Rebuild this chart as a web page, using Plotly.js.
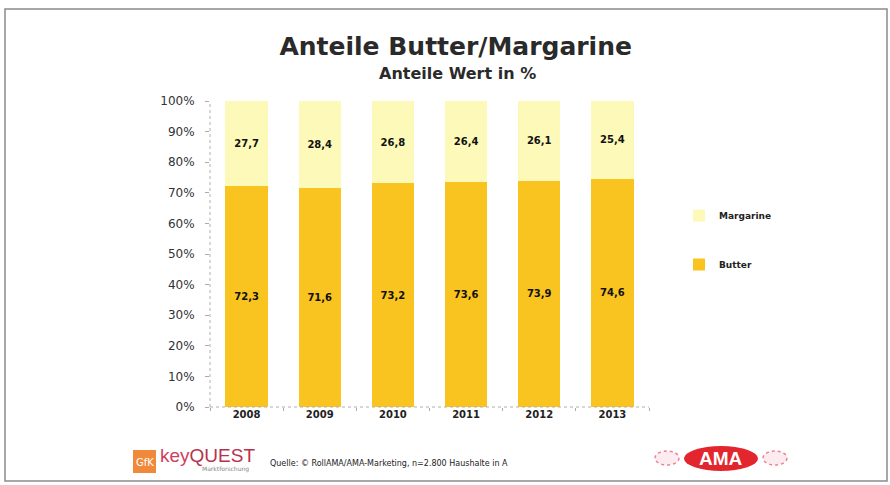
<!DOCTYPE html>
<html>
<head>
<meta charset="utf-8">
<script src="https://cdn.plot.ly/plotly-3.0.1.min.js"></script>
<style>
html,body{margin:0;padding:0;background:#fff;}
#chart{width:890px;height:485px;}
</style>
</head>
<body>
<div id="chart"></div>
<script>
const years = ['2008','2009','2010','2011','2012','2013'];
const butter = [72.3, 71.6, 73.2, 73.6, 73.9, 74.6];
const margarine = [27.7, 28.4, 26.8, 26.4, 26.1, 25.4];
const yTickVals = [0,10,20,30,40,50,60,70,80,90,100];
const yTickText = ['0%','10%','20%','30%','40%','50%','60%','70%','80%','90%','100%'];

const fmt = v => v.toFixed(1).replace('.', ',');
const labelFont = {family:'DejaVu Sans, Verdana, sans-serif', size:10, color:'#111', weight:'bold'};

const traces = [
  {type:'bar', name:'Butter', x:years, y:butter, legendgroup:'b', legendrank:2,
   marker:{color:'#F9C41F'}, text:butter.map(fmt), textposition:'inside',
   insidetextanchor:'middle', textangle:0, textfont:labelFont, hoverinfo:'skip'},
  {type:'bar', name:'Margarine', x:years, y:margarine, legendgroup:'m', legendrank:1,
   marker:{color:'#FDF9B8'}, text:margarine.map(fmt), textposition:'inside',
   insidetextanchor:'middle', textangle:0, textfont:labelFont, hoverinfo:'skip'}
];

const L = 210, R = 241, T = 101, B = 78;
const W = 890 - L - R, H = 485 - T - B;
const px = x => (x - L) / W;
const py = y => (485 - B - y) / H;

const layout = {
  width:890, height:485,
  margin:{l:L, r:R, t:T, b:B},
  paper_bgcolor:'#fff', plot_bgcolor:'#fff',
  barmode:'stack', bargap:0.42,
  font:{family:'DejaVu Sans, Verdana, sans-serif', color:'#222'},
  title:{text:'<b>Anteile Butter/Margarine</b>', x:0.512, xanchor:'center', y:0.905, yanchor:'middle',
         font:{family:'DejaVu Sans, Verdana, sans-serif', size:25, color:'#2a2a2a'}},
  xaxis:{type:'category', tickson:'boundaries', ticks:'outside', ticklen:3, tickcolor:'#aaa',
         showline:false, showgrid:false,
         tickfont:{size:10, color:'#222', family:'DejaVu Sans, Verdana, sans-serif', weight:'bold'}},
  yaxis:{range:[0,100], tickvals:yTickVals, ticktext:yTickText, ticks:'outside', ticklen:4,
         tickcolor:'#aaa', showline:false, showgrid:false,
         zeroline:false, ticklabelstandoff:8,
         tickfont:{size:12, color:'#333', family:'DejaVu Sans, Verdana, sans-serif'}},
  showlegend:true,
  legend:{x:px(679), y:py(201), xanchor:'left', yanchor:'top', traceorder:'grouped',
          tracegroupgap:30, bgcolor:'rgba(0,0,0,0)',
          font:{size:9, color:'#222', family:'DejaVu Sans, Verdana, sans-serif', weight:'bold'},
          itemwidth:30},
  shapes:[
    // slide frame
    {type:'rect', xref:'paper', yref:'paper', x0:px(5), x1:px(887), y0:py(481), y1:py(9),
     line:{color:'#8a8a8a', width:1.5}, fillcolor:'rgba(0,0,0,0)', layer:'below'},
    // dashed axis lines
    {type:'line', xref:'paper', yref:'paper', x0:0, x1:0, y0:0, y1:1,
     line:{color:'#b0b0b0', width:1, dash:'dot'}},
    {type:'line', xref:'paper', yref:'paper', x0:0, x1:1, y0:0, y1:0,
     line:{color:'#b0b0b0', width:1, dash:'dot'}},
    // GfK orange box
    {type:'rect', xref:'paper', yref:'paper', x0:px(133), x1:px(156), y0:py(473), y1:py(450),
     line:{width:0}, fillcolor:'#F08A3A'},
    // AMA ellipse
    {type:'circle', xref:'paper', yref:'paper', x0:px(684), x1:px(758), y0:py(471), y1:py(446),
     line:{width:0}, fillcolor:'#E3262E'},
    // ornaments
    {type:'circle', xref:'paper', yref:'paper', x0:px(655), x1:px(679), y0:py(465), y1:py(451),
     line:{color:'#EE8090', width:1.5, dash:'dot'}, fillcolor:'rgba(245,180,190,0.25)'},
    {type:'circle', xref:'paper', yref:'paper', x0:px(763), x1:px(787), y0:py(465), y1:py(451),
     line:{color:'#EE8090', width:1.5, dash:'dot'}, fillcolor:'rgba(245,180,190,0.25)'}
  ],
  annotations:[
    {text:'<b>Anteile Wert in %</b>', xref:'paper', yref:'paper', x:px(457), y:py(73),
     xanchor:'center', yanchor:'middle', showarrow:false,
     font:{size:16, color:'#2a2a2a', family:'DejaVu Sans, Verdana, sans-serif'}},
    {text:'GfK', xref:'paper', yref:'paper', x:px(144.5), y:py(462), xanchor:'center', yanchor:'middle',
     showarrow:false, font:{size:10, color:'#fff', family:'DejaVu Sans, sans-serif'}},
    {text:'<span style="color:#D0405E">key</span><span style="color:#B8324E">QUEST</span>',
     xref:'paper', yref:'paper', x:px(158), y:py(456), xanchor:'left', yanchor:'middle',
     showarrow:false, font:{size:19, family:'Liberation Sans, Arial, sans-serif'}},
    {text:'Marktforschung', xref:'paper', yref:'paper', x:px(200), y:py(469), xanchor:'left', yanchor:'middle',
     showarrow:false, font:{size:6, color:'#888', family:'DejaVu Sans, sans-serif'}},
    {text:'Quelle: © RollAMA/AMA-Marketing, n=2.800 Haushalte in A', xref:'paper', yref:'paper',
     x:px(268), y:py(463), xanchor:'left', yanchor:'middle', showarrow:false,
     font:{size:8, color:'#222', family:'DejaVu Sans, Verdana, sans-serif'}},
    {text:'<b>AMA</b>', xref:'paper', yref:'paper', x:px(721), y:py(458.5), xanchor:'center', yanchor:'middle',
     showarrow:false, font:{size:19, color:'#fff', family:'Liberation Sans, Arial, sans-serif'}}
  ]
};

Plotly.newPlot('chart', traces, layout, {displayModeBar:false, staticPlot:true});
</script>
</body>
</html>
